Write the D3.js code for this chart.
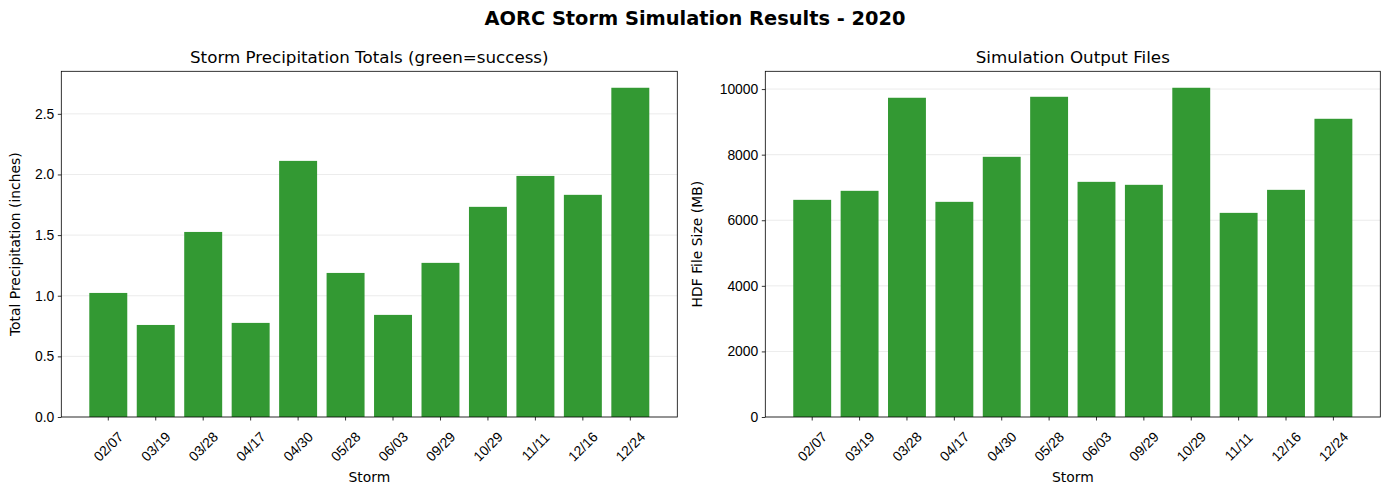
<!DOCTYPE html>
<html>
<head>
<meta charset="utf-8">
<script src="https://cdn.jsdelivr.net/npm/d3@7"></script>
<style>
  body { margin: 0; background: #fff; }
  svg { font-family: "DejaVu Sans", sans-serif; }
</style>
</head>
<body>
<svg id="chart" width="1389" height="495"></svg>
<script>
// storm dates and results
var storms = ['02/07', '03/19', '03/28', '04/17', '04/30', '05/28', '06/03', '09/29', '10/29', '11/11', '12/16', '12/24'];
var precipTotals = [1.023, 0.759, 1.526, 0.776, 2.112, 1.188, 0.842, 1.271, 1.733, 1.988, 1.832, 2.715];
var hdfSizes = [6622, 6897, 9735, 6561, 7934, 9765, 7171, 7080, 10040, 6225, 6927, 9094];
var precipTicks = [0.0, 0.5, 1.0, 1.5, 2.0, 2.5];
var sizeTicks = [0, 2000, 4000, 6000, 8000, 10000];

var svg = d3.select('#chart');
var barColor = '#339933';

svg.append('text')
  .attr('x', 695)
  .attr('y', 25)
  .attr('text-anchor', 'middle')
  .style('font-size', '19.4px')
  .style('font-weight', 'bold')
  .text('AORC Storm Simulation Results - 2020');

function drawPanel(opts) {
  var left = opts.left, right = opts.right, top = 71.3, bottom = 417;

  var x = d3.scaleBand()
    .domain(storms)
    .range([left, right])
    .paddingInner(0.2)
    .paddingOuter(0.59);

  var y = d3.scaleLinear()
    .domain([0, d3.max(opts.values) * 1.05])
    .range([bottom, top]);

  var g = svg.append('g');

  // grid
  g.selectAll('.grid')
    .data(opts.ticks)
    .enter().append('line')
    .attr('x1', left).attr('x2', right)
    .attr('y1', function(d) { return y(d); })
    .attr('y2', function(d) { return y(d); })
    .style('stroke', '#b0b0b0')
    .style('stroke-width', 0.8)
    .style('opacity', 0.3);

  g.selectAll('.bar')
    .data(opts.values)
    .enter().append('rect')
    .attr('x', function(d, i) { return x(storms[i]); })
    .attr('width', x.bandwidth())
    .attr('y', function(d) { return y(d); })
    .attr('height', function(d) { return bottom - y(d); })
    .style('fill', barColor);

  var yAxis = g.append('g')
    .attr('transform', 'translate(' + left + ',0)')
    .call(d3.axisLeft(y).tickValues(opts.ticks).tickFormat(opts.fmt).tickSize(3.5).tickPadding(3.5));

  var xAxis = g.append('g')
    .attr('transform', 'translate(0,' + bottom + ')')
    .call(d3.axisBottom(x).tickSize(3.5).tickPadding(3.5));

  [xAxis, yAxis].forEach(function(a) {
    a.select('.domain').remove();
    a.selectAll('line').style('stroke', '#000').style('stroke-width', 0.8);
    a.selectAll('text').style('font-size', '13.9px').style('fill', '#000').attr('font-family', null);
  });

  xAxis.selectAll('text')
    .attr('y', null).attr('dy', null)
    .attr('dominant-baseline', 'central')
    .attr('text-anchor', 'middle')
    .attr('transform', 'translate(0,29.5) rotate(-45)');

  // frame
  g.append('rect')
    .attr('x', left).attr('y', top)
    .attr('width', right - left).attr('height', bottom - top)
    .style('fill', 'none')
    .style('stroke', '#000')
    .style('stroke-width', 0.8);

  g.append('text')
    .attr('x', (left + right) / 2)
    .attr('y', 63)
    .attr('text-anchor', 'middle')
    .style('font-size', '16.7px')
    .text(opts.title);

  g.append('text')
    .attr('x', (left + right) / 2)
    .attr('y', 482)
    .attr('text-anchor', 'middle')
    .style('font-size', '13.9px')
    .text('Storm');

  g.append('text')
    .attr('transform', 'translate(' + opts.ylabelX + ',' + (top + bottom) / 2 + ') rotate(-90)')
    .attr('text-anchor', 'middle')
    .style('font-size', '13.9px')
    .text(opts.ylabel);
}

drawPanel({
  left: 61.3, right: 677.3,
  values: precipTotals, ticks: precipTicks,
  fmt: d3.format('.1f'),
  title: 'Storm Precipitation Totals (green=success)',
  ylabel: 'Total Precipitation (inches)',
  ylabelX: 20
});

drawPanel({
  left: 765.3, right: 1380.3,
  values: hdfSizes, ticks: sizeTicks,
  fmt: d3.format('d'),
  title: 'Simulation Output Files',
  ylabel: 'HDF File Size (MB)',
  ylabelX: 702
});
</script>
</body>
</html>
